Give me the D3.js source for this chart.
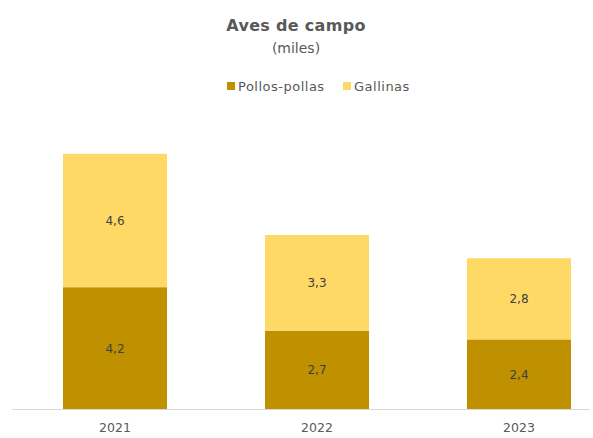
<!DOCTYPE html>
<html><head><meta charset="utf-8">
<script src="https://cdn.jsdelivr.net/npm/d3@7"></script>
<style>body{margin:0;background:#fff;} svg{display:block;font-family:"DejaVu Sans",sans-serif;}</style>
</head><body>
<svg id="c" width="593" height="438"></svg>
<script>
const years = ["2021","2022","2023"];
const seriesNames = ["Pollos-pollas","Gallinas"];
const pollos = [4.2, 2.7, 2.4];
const gallinas = [4.6, 3.3, 2.8];
const colors = ["#BF9000","#FFD966"];

const svg = d3.select("#c");
const x = d3.scaleBand().domain(years).range([14, 620]).paddingInner(0.485).paddingOuter(0.2425);
const y = d3.scaleLinear().domain([0, 10]).range([409, 119]);

const rows = years.map((yr,i)=>({year:yr, "Pollos-pollas":pollos[i], "Gallinas":gallinas[i]}));
const stacked = d3.stack().keys(seriesNames)(rows);

const g = svg.append("g");
stacked.forEach((s,si)=>{
  g.selectAll(null).data(s).enter().append("rect")
    .attr("x", d=>x(d.data.year))
    .attr("width", x.bandwidth())
    .attr("y", d=>y(d[1]))
    .attr("height", d=>y(d[0])-y(d[1]))
    .attr("fill", colors[si]);
  g.selectAll(null).data(s).enter().append("text")
    .attr("x", d=>x(d.data.year)+x.bandwidth()/2)
    .attr("y", d=>(y(d[0])+y(d[1]))/2+4.5)
    .attr("text-anchor","middle")
    .attr("font-size", 12)
    .attr("fill", "#404040")
    .text(d=>d3.format(".1f")(d[1]-d[0]).replace(".", ","));
});

// axis
const ax = svg.append("g").attr("transform","translate(0,409)")
  .call(d3.axisBottom(x).tickSize(0).tickPadding(14));
ax.select(".domain").remove();
ax.selectAll("text").attr("font-size",12.5).attr("fill","#595959").attr("font-family","DejaVu Sans, sans-serif");
svg.append("line").attr("x1",12).attr("x2",590).attr("y1",409.5).attr("y2",409.5).attr("stroke","#D9D9D9").attr("stroke-width",1);

// title
svg.append("text").attr("x",296).attr("y",31).attr("text-anchor","middle")
  .attr("font-size",16).attr("font-weight","bold").attr("fill","#595959").attr("letter-spacing",0.3).text("Aves de campo");
svg.append("text").attr("x",296).attr("y",53).attr("text-anchor","middle")
  .attr("font-size",14).attr("fill","#595959").text("(miles)");

// legend
const leg = svg.append("g");
const legX = [227, 343];
seriesNames.forEach((n,i)=>{
  leg.append("rect").attr("x",legX[i]).attr("y",82).attr("width",8).attr("height",8).attr("fill",colors[i]);
  leg.append("text").attr("x",legX[i]+11).attr("y",91).attr("font-size",13).attr("letter-spacing",0.5).attr("fill","#595959").text(n);
});
</script>
</body></html>
